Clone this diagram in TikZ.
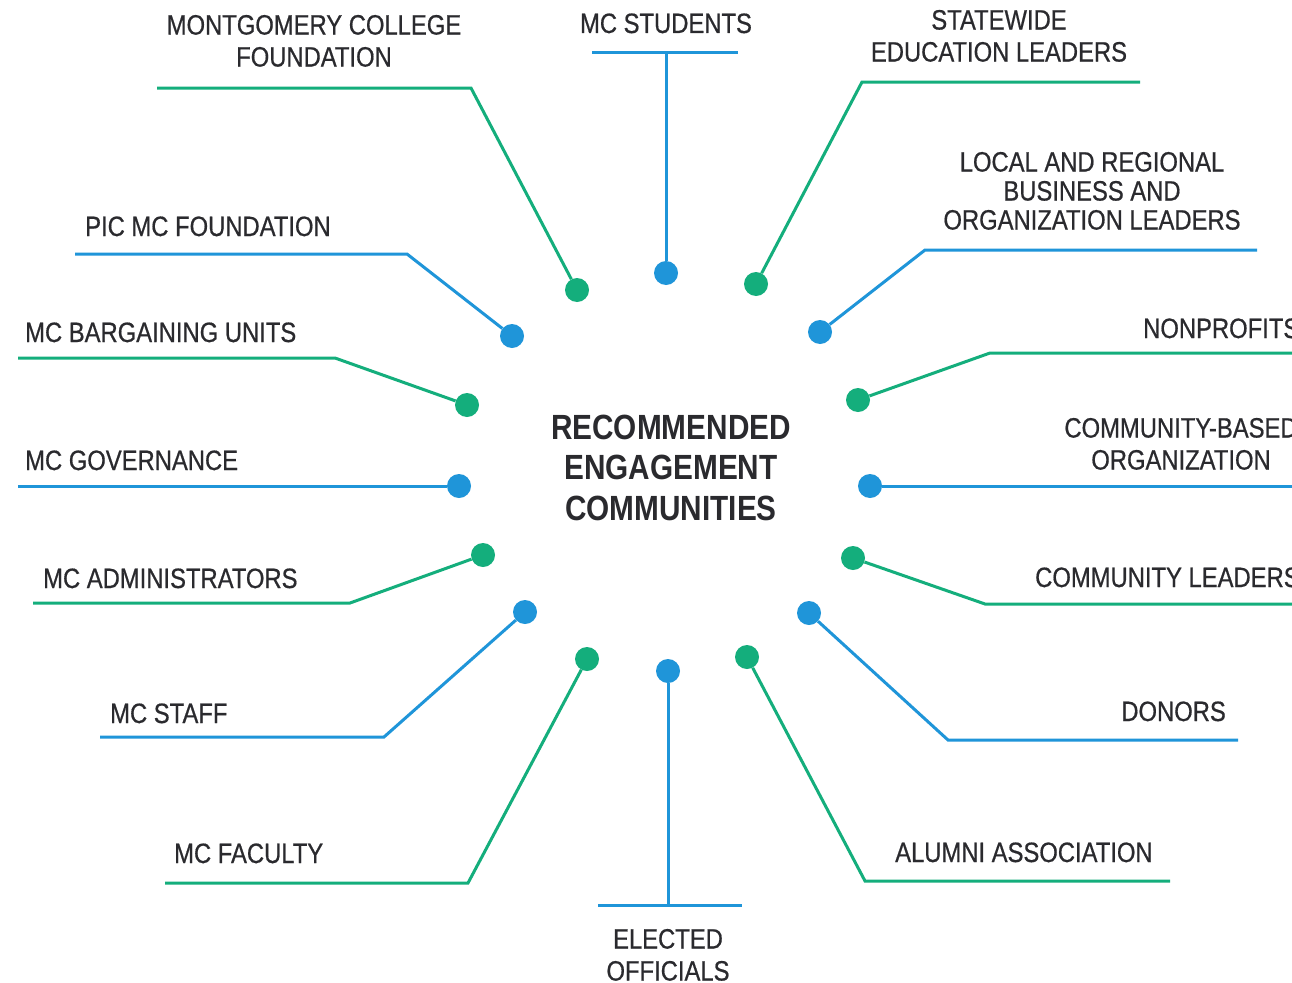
\documentclass[tikz,border=0pt]{standalone}
\usepackage{fontspec}
\setmainfont{Liberation Sans}
\newfontfamily\lblfont[FakeStretch=0.85,FakeBold=0.6]{Liberation Sans}
\newfontfamily\ttlfont[FakeStretch=0.85]{Liberation Sans}
\definecolor{mcgreen}{HTML}{14AE7C}
\definecolor{mcblue}{HTML}{1F95D9}
\definecolor{txt}{HTML}{2A2A2E}
\tikzset{
  lbl/.style={font=\lblfont\fontsize{28}{32}\selectfont, text=txt, inner sep=0pt, align=center},
  gline/.style={draw=mcgreen, line width=3pt},
  bline/.style={draw=mcblue, line width=3pt},
  gdot/.style={circle, fill=mcgreen, minimum size=24pt, inner sep=0pt},
  bdot/.style={circle, fill=mcblue, minimum size=24pt, inner sep=0pt},
}
\begin{document}
\begin{tikzpicture}[x=1pt,y=-1pt]
\useasboundingbox (0,0) rectangle (1292,982);
\fill[white] (0,0) rectangle (1292,982);

% centre title
\node[font=\ttlfont\bfseries\fontsize{35}{40.5}\selectfont, text=txt, inner sep=0pt, align=center, anchor=south]
  (title) at (671,521) {RECOMMENDED\\ENGAGEMENT\\COMMUNITIES};

% coordinates (line ends and corners)
\coordinate (e1) at (157,88);   \coordinate (c1) at (471,88);
\coordinate (e2a) at (592,53);  \coordinate (e2b) at (738,53);  \coordinate (c2) at (666,53);
\coordinate (e3) at (1140,82);  \coordinate (c3) at (862,82);
\coordinate (e4) at (1257,250); \coordinate (c4) at (925,250);
\coordinate (e5) at (1292,353); \coordinate (c5) at (990,353);
\coordinate (e6) at (1292,486);
\coordinate (e7) at (1292,604); \coordinate (c7) at (985,604);
\coordinate (e8) at (1238,740); \coordinate (c8) at (948,740);
\coordinate (e9) at (1170,881); \coordinate (c9) at (865,881);
\coordinate (e10a) at (598,905); \coordinate (e10b) at (742,905); \coordinate (c10) at (668,905);
\coordinate (e11) at (165,883); \coordinate (c11) at (468,883);
\coordinate (e12) at (100,737); \coordinate (c12) at (384,737);
\coordinate (e13) at (33,603);  \coordinate (c13) at (350,603);
\coordinate (e14) at (18,486);
\coordinate (e15) at (18,358);  \coordinate (c15) at (335,358);
\coordinate (e16) at (75,254);  \coordinate (c16) at (407,254);

% dots
\node[gdot] (d1) at (577,290) {};
\node[bdot] (d2) at (666,273) {};
\node[gdot] (d3) at (756,284) {};
\node[bdot] (d4) at (820,332) {};
\node[gdot] (d5) at (858,400) {};
\node[bdot] (d6) at (870,486) {};
\node[gdot] (d7) at (853,558) {};
\node[bdot] (d8) at (809,613) {};
\node[gdot] (d9) at (747,657) {};
\node[bdot] (d10) at (668,671) {};
\node[gdot] (d11) at (587,659) {};
\node[bdot] (d12) at (525,612) {};
\node[gdot] (d13) at (483,555) {};
\node[bdot] (d14) at (459,486) {};
\node[gdot] (d15) at (467,405) {};
\node[bdot] (d16) at (512,336) {};

% connectors
\draw[gline] (e1) -- (c1) -- (d1);
\draw[bline] (e2a) -- (e2b);
\draw[bline] (c2) -- (d2);
\draw[gline] (e3) -- (c3) -- (d3);
\draw[bline] (e4) -- (c4) -- (d4);
\draw[gline] (e5) -- (c5) -- (d5);
\draw[bline] (e6) -- (d6);
\draw[gline] (e7) -- (c7) -- (d7);
\draw[bline] (e8) -- (c8) -- (d8);
\draw[gline] (e9) -- (c9) -- (d9);
\draw[bline] (e10a) -- (e10b);
\draw[bline] (c10) -- (d10);
\draw[gline] (e11) -- (c11) -- (d11);
\draw[bline] (e12) -- (c12) -- (d12);
\draw[gline] (e13) -- (c13) -- (d13);
\draw[bline] (e14) -- (d14);
\draw[gline] (e15) -- (c15) -- (d15);
\draw[bline] (e16) -- (c16) -- (d16);

% labels
\node[lbl, anchor=south] (t1) at (314,67) {MONTGOMERY COLLEGE\\FOUNDATION};
\node[lbl, anchor=base] (t2) at (666,33) {MC STUDENTS};
\node[lbl, anchor=south] (t3) at (999,62) {STATEWIDE\\EDUCATION LEADERS};
\node[lbl, anchor=south, font=\lblfont\fontsize{28}{29}\selectfont] (t4) at (1092,230) {LOCAL AND REGIONAL\\BUSINESS AND\\ORGANIZATION LEADERS};
\node[lbl, anchor=base west] (t5) at (1143,338) {NONPROFITS};
\node[lbl, anchor=south] (t6) at (1181,470) {COMMUNITY-BASED\\ORGANIZATION};
\node[lbl, anchor=base west] (t7) at (1035,587) {COMMUNITY LEADERS};
\node[lbl, anchor=base east] (t8) at (1226,721) {DONORS};
\node[lbl, anchor=base west] (t9) at (895,862) {ALUMNI ASSOCIATION};
\node[lbl, anchor=south] (t10) at (668,981) {ELECTED\\OFFICIALS};
\node[lbl, anchor=base west] (t11) at (174,863) {MC FACULTY};
\node[lbl, anchor=base west] (t12) at (110,723) {MC STAFF};
\node[lbl, anchor=base west] (t13) at (43,588) {MC ADMINISTRATORS};
\node[lbl, anchor=base west] (t14) at (25,470) {MC GOVERNANCE};
\node[lbl, anchor=base west] (t15) at (25,342) {MC BARGAINING UNITS};
\node[lbl, anchor=base west] (t16) at (85,236) {PIC MC FOUNDATION};
\end{tikzpicture}
\end{document}
